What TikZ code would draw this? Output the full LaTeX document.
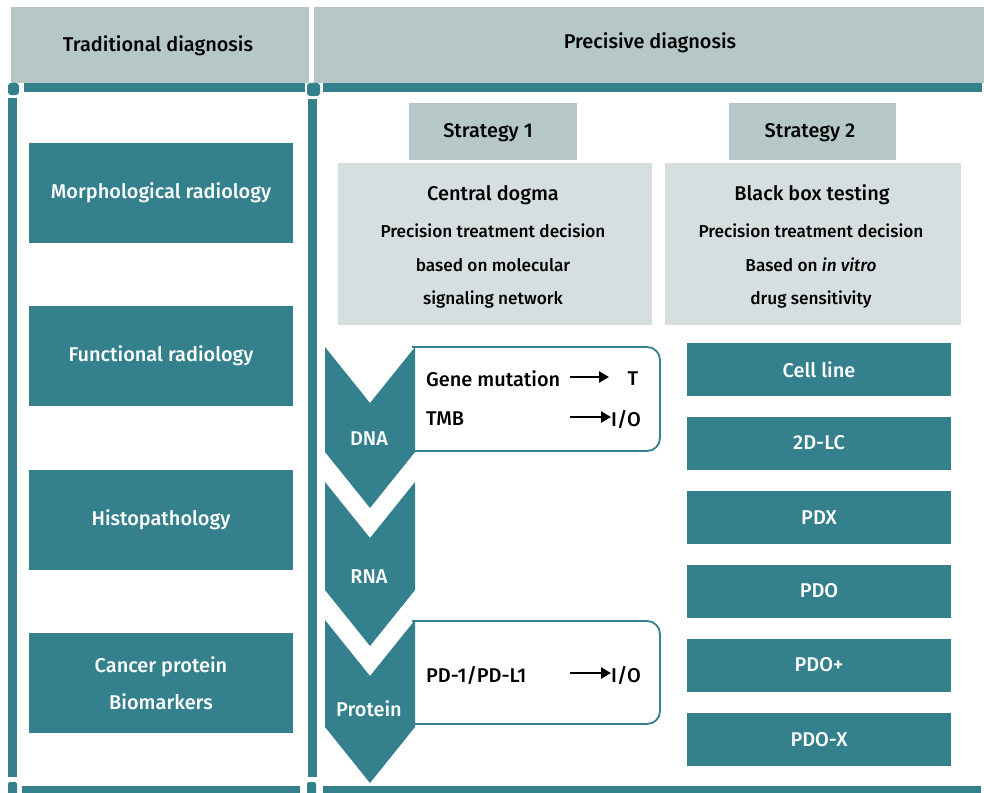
\documentclass[tikz,border=0pt]{standalone}
\usepackage{fontspec}
\setmainfont{Fira Sans}[UprightFont=* Medium, ItalicFont=* Medium Italic]
\usetikzlibrary{arrows.meta}
\definecolor{tealbar}{HTML}{35808D}
\definecolor{headgray}{HTML}{B5C7C7}
\definecolor{palegray}{HTML}{D5DFE0}
\tikzset{
  txt/.style={font=\fontsize{20}{24}\selectfont, inner sep=0pt},
  smalltxt/.style={font=\fontsize{17.3}{21}\selectfont, inner sep=0pt},
  headbox/.style={fill=headgray, inner sep=0pt},
  palebox/.style={fill=palegray, inner sep=0pt},
  tealbox/.style={fill=tealbar, text=white, inner sep=0pt, align=center, font=\fontsize{20}{37}\selectfont},
  framebar/.style={fill=tealbar},
  chevron/.style={fill=tealbar},
  resultbox/.style={draw=tealbar, line width=1.8bp, fill=white, rounded corners=13bp},
  pointer/.style={line width=2.6bp, -{Triangle[length=10bp,width=11bp]}}
}
\begin{document}
\begin{tikzpicture}[x=1bp,y=-1bp]
  \useasboundingbox (0,0) rectangle (984,793);

  % headers
  \node[headbox, minimum width=298bp, minimum height=76bp] (tradhead) at (160,45) {};
  \node[headbox, minimum width=670bp, minimum height=76bp] (prechead) at (649,45) {};
  \node[txt] (tradlbl) at (158,46) {Traditional diagnosis};
  \node[txt] (preclbl) at (650,43) {Precisive diagnosis};

  % frame
  \fill[framebar] (24,83) rectangle (305,92);
  \fill[framebar] (323,83) rectangle (982,92);
  \fill[framebar, rounded corners=3bp] (8,83) rectangle (19,95);
  \fill[framebar, rounded corners=3bp] (307,83) rectangle (320,96);
  \fill[framebar] (8,98) rectangle (17,777);
  \fill[framebar] (308,99) rectangle (317,777);
  \fill[framebar, rounded corners=2bp] (8,782) rectangle (17,795);
  \fill[framebar, rounded corners=2bp] (307,782) rectangle (316,795);
  \fill[framebar] (22,786) rectangle (300,795);
  \fill[framebar] (323,786) rectangle (981,795);

  % traditional column
  \node[tealbox, minimum width=264bp, minimum height=100bp] (morph) at (161,193) {Morphological radiology};
  \node[tealbox, minimum width=264bp, minimum height=100bp] (func) at (161,356) {Functional radiology};
  \node[tealbox, minimum width=264bp, minimum height=100bp] (histo) at (161,520) {Histopathology};
  \node[tealbox, minimum width=264bp, minimum height=100bp] (cancer) at (161,683) {Cancer protein\\Biomarkers};

  % strategies
  \node[headbox, minimum width=168bp, minimum height=56bp] (strat1) at (493,131.5) {};
  \node[headbox, minimum width=167bp, minimum height=56bp] (strat2) at (812.5,131.5) {};
  \node[txt] (strat1lbl) at (488,133) {Strategy 1};
  \node[txt] (strat2lbl) at (810,133) {Strategy 2};

  \node[palebox, minimum width=314bp, minimum height=162bp] (dogma) at (495,244) {};
  \node[palebox, minimum width=296bp, minimum height=162bp] (blackbox) at (813,244) {};
  \node[txt] (dogmat) at (493,195) {Central dogma};
  \node[smalltxt] (dogma1) at (493,231) {Precision treatment decision};
  \node[smalltxt] (dogma2) at (493,265) {based on molecular};
  \node[smalltxt] (dogma3) at (493,300) {signaling network};
  \node[txt] (blackt) at (812,195) {Black box testing};
  \node[smalltxt] (black1) at (811,231) {Precision treatment decision};
  \node[smalltxt] (black2) at (811,265) {Based on \textit{in vitro}};
  \node[smalltxt] (black3) at (811,300) {drug sensitivity};

  % central dogma chevrons
  \draw[resultbox] (412,347) -- (660,347) -- (660,451) -- (412,451);
  \draw[resultbox] (412,621) -- (660,621) -- (660,724) -- (412,724);
  \fill[chevron] (325,347) -- (370,403) -- (415,347) -- (415,452) -- (370,508) -- (325,452) -- cycle;
  \fill[chevron] (325,482) -- (370,538) -- (415,482) -- (415,590) -- (370,646) -- (325,590) -- cycle;
  \fill[chevron] (325,620) -- (370,676) -- (415,620) -- (415,727) -- (370,783) -- (325,727) -- cycle;
  \node[txt, text=white] (dna) at (369,439) {DNA};
  \node[txt, text=white] (rna) at (369,577) {RNA};
  \node[txt, text=white] (protein) at (369,709) {Protein};

  \node[txt, anchor=west] (gene) at (426,379) {Gene mutation};
  \node[txt, anchor=west] (tmb) at (426,419) {TMB};
  \node[txt, anchor=west] (pdl) at (426,675) {PD-1/PD-L1};
  \node[txt] (target) at (633,379) {T};
  \node[txt, anchor=west] (io1) at (611,419) {I/O};
  \node[txt, anchor=west] (io2) at (611,675) {I/O};
  \coordinate (arr1s) at (570,377);
  \coordinate (arr1e) at (609,377);
  \coordinate (arr2s) at (570,417);
  \coordinate (arr3s) at (570,673);
  \draw[pointer] (arr1s) -- (arr1e);
  \draw[pointer] (arr2s) -- (io1.west |- arr2s);
  \draw[pointer] (arr3s) -- (io2.west |- arr3s);

  % black box models
  \node[tealbox, minimum width=264bp, minimum height=53bp] (cellline) at (819,369.5) {Cell line};
  \node[tealbox, minimum width=264bp, minimum height=53bp] (twodlc) at (819,443) {2D-LC};
  \node[tealbox, minimum width=264bp, minimum height=53bp] (pdx) at (819,517.5) {PDX};
  \node[tealbox, minimum width=264bp, minimum height=53bp] (pdo) at (819,591) {PDO};
  \node[tealbox, minimum width=264bp, minimum height=53bp] (pdoplus) at (819,665) {PDO+};
  \node[tealbox, minimum width=264bp, minimum height=53bp] (pdox) at (819,739.5) {PDO-X};
\end{tikzpicture}
\end{document}
